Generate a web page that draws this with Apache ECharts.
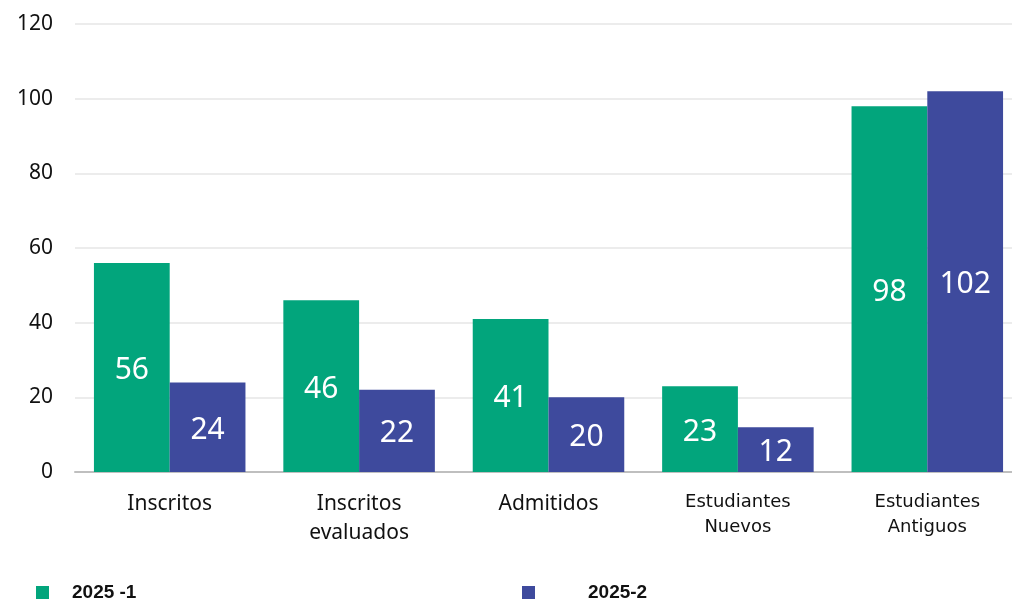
<!DOCTYPE html>
<html>
<head>
<meta charset="utf-8">
<script src="https://cdn.jsdelivr.net/npm/echarts@6/dist/echarts.min.js"></script>
<style>html,body{margin:0;padding:0;background:#fff}#c{width:1012px;height:600px}</style>
</head>
<body>
<div id="c"></div>
<script>
const categories = ['Inscritos', 'Inscritos\nevaluados', 'Admitidos', 'Estudiantes\nNuevos', 'Estudiantes\nAntiguos'];
const smallCats = ['Estudiantes\nNuevos', 'Estudiantes\nAntiguos'];
const series1Name = '2025 -1';
const series2Name = '2025-2';
const series1 = [56, 46, 41, 23, 98];
const series2 = [24, 22, 20, 12, 102];
const yTicks = { min: 0, max: 120, interval: 20 };

const chart = echarts.init(document.getElementById('c'));
const font = "'Noto Sans', sans-serif";
chart.setOption({
  animation: false,
  grid: { left: 75, top: 24, width: 947, height: 448, containLabel: false, outerBoundsMode: 'none' },
  legend: [
    { data: [series1Name], left: 31, top: 578, itemWidth: 13, itemHeight: 13, icon: 'rect',
      textStyle: { fontFamily: 'Liberation Sans, Arial', fontWeight: 'bold', fontSize: 19, color: '#111', padding: [0, 0, 0, 18] } },
    { data: [series2Name], left: 517, top: 578, itemWidth: 13, itemHeight: 13, icon: 'rect',
      textStyle: { fontFamily: 'Liberation Sans, Arial', fontWeight: 'bold', fontSize: 19, color: '#111', padding: [0, 0, 0, 48] } }
  ],
  xAxis: {
    type: 'category', data: categories,
    axisLine: { lineStyle: { color: '#bfbfbf', width: 2 } },
    axisTick: { show: false },
    axisLabel: {
      margin: 18, color: '#111', fontFamily: font, fontSize: 21, lineHeight: 29, interval: 0,
      formatter: v => smallCats.includes(v) ? '{s|' + v.replace('\n', '}\n{s|') + '}' : v,
      rich: { s: { fontSize: 18, lineHeight: 25, fontFamily: "'DejaVu Sans', sans-serif", color: '#111' } }
    }
  },
  yAxis: {
    type: 'value', min: yTicks.min, max: yTicks.max, interval: yTicks.interval,
    axisLine: { show: false }, axisTick: { show: false },
    axisLabel: { margin: 22, color: '#111', fontFamily: font, fontSize: 21 },
    splitLine: { lineStyle: { color: '#e6e6e6', width: 1.5 } }
  },
  series: [
    { name: series1Name, type: 'bar', data: series1, barGap: '0%', barCategoryGap: '20%',
      itemStyle: { color: '#02A57C' },
      label: { show: true, position: 'inside', offset: [0, 3], color: '#fff', fontFamily: font, fontSize: 30 } },
    { name: series2Name, type: 'bar', data: series2,
      itemStyle: { color: '#3E4A9D' },
      label: { show: true, position: 'inside', offset: [0, 3], color: '#fff', fontFamily: font, fontSize: 30 } }
  ]
});
</script>
</body>
</html>
